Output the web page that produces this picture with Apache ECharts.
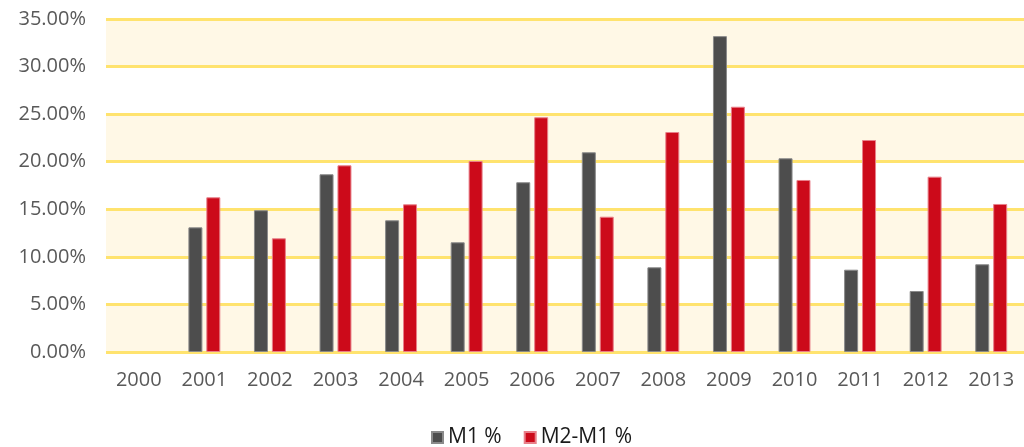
<!DOCTYPE html>
<html>
<head>
<meta charset="utf-8">
<script src="https://cdn.jsdelivr.net/npm/echarts@6/dist/echarts.min.js"></script>
<style>
  html, body { margin: 0; padding: 0; background: #fff; }
  #chart { width: 1024px; height: 447px; }
</style>
</head>
<body>
<div id="chart"></div>
<script>
var years = ['2000', '2001', '2002', '2003', '2004', '2005', '2006', '2007', '2008', '2009', '2010', '2011', '2012', '2013'];
var m1 = [null, 13.1, 14.9, 18.68, 13.84, 11.53, 17.84, 20.99, 8.9, 33.2, 20.36, 8.65, 6.41, 9.22];
var m2m1 = [null, 16.26, 11.95, 19.62, 15.52, 20.08, 24.67, 14.22, 23.12, 25.78, 18.08, 22.28, 18.43, 15.56];
var legendNames = ['M1 %', 'M2-M1 %'];

var chart = echarts.init(document.getElementById('chart'));
var font = '"Open Sans", "Noto Sans", sans-serif';
chart.setOption({
  animation: false,
  grid: {
    left: 106,
    right: 0,
    top: 19,
    bottom: 95
  },
  legend: {
    data: legendNames,
    top: 422,
    left: 426,
    itemWidth: 11,
    itemHeight: 11,
    itemGap: 22,
    icon: 'rect',
    textStyle: { fontFamily: font, fontSize: 21, color: '#1a1a1a' }
  },
  xAxis: {
    type: 'category',
    data: years,
    axisLine: { show: false },
    axisTick: { show: false },
    axisLabel: { fontFamily: font, fontSize: 20, color: '#595959', margin: 18 }
  },
  yAxis: {
    type: 'value',
    min: 0,
    max: 35,
    interval: 5,
    axisLine: { show: false },
    axisTick: { show: false },
    axisLabel: {
      fontFamily: font,
      fontSize: 20,
      color: '#595959',
      margin: 20,
      formatter: function (v) { return v.toFixed(2) + '%'; }
    },
    splitLine: { lineStyle: { color: '#ffe36e', width: 3 } },
    splitArea: { show: true, areaStyle: { color: ['#fff8e6', '#ffffff'] } }
  },
  series: [
    {
      name: legendNames[0],
      type: 'bar',
      data: m1,
      barWidth: 14,
      barGap: '28%',
      itemStyle: { color: '#4d4d4d', borderColor: '#8a8a8a', borderWidth: 1 }
    },
    {
      name: legendNames[1],
      type: 'bar',
      data: m2m1,
      barWidth: 14,
      itemStyle: { color: '#cc0a1a', borderColor: '#e8808a', borderWidth: 1 }
    }
  ]
});
</script>
</body>
</html>
